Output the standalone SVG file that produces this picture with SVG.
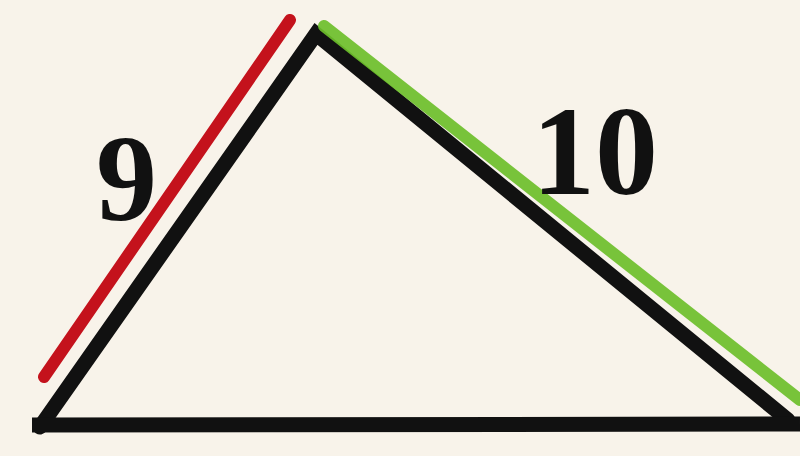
<svg xmlns="http://www.w3.org/2000/svg" width="800" height="456" viewBox="0 0 800 456">
<style>
.edge{fill:none;stroke-linecap:round;stroke-linejoin:miter}
.lbl{font-family:"Liberation Serif","DejaVu Serif",serif;font-weight:bold;fill:#111}
</style>
<rect width="800" height="456" fill="#f8f3ea"/>
<g id="connectors">
<line class="edge" x1="290" y1="20" x2="44" y2="377" stroke="#c4121c" stroke-width="12"/>
<polyline class="edge" points="40,427 316,34 788,420" stroke="#111" stroke-width="15"/>
<line x1="32" y1="425" x2="800" y2="424" stroke="#111" stroke-width="15"/>
<line class="edge" x1="324" y1="26" x2="800" y2="400" stroke="#6cbf2a" stroke-width="12" opacity="0.92"/>
</g>
<g id="label-9"><text class="lbl" x="96" y="220" font-size="122">9</text></g>
<g id="label-10"><text class="lbl" x="532" y="194" font-size="126">10</text></g>
</svg>
